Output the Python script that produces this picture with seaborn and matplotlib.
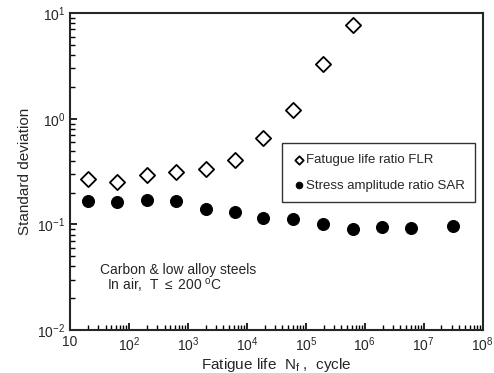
import numpy as np
import pandas as pd
import seaborn as sns
import matplotlib.pyplot as plt
from matplotlib.ticker import LogLocator, NullFormatter

sns.set_style("ticks")
plt.rcParams['font.family'] = ['Liberation Sans', 'DejaVu Sans']
plt.rcParams['mathtext.fontset'] = 'custom'
plt.rcParams['mathtext.rm'] = 'Liberation Sans'
plt.rcParams['mathtext.it'] = 'Liberation Sans:italic'

# fatigue life (cycles) and standard deviations
flr_life = [20, 62, 200, 620, 2000, 6200, 19000, 61000, 193000, 620000]
flr_sd = [0.267, 0.253, 0.293, 0.311, 0.332, 0.404, 0.66, 1.21, 3.27, 7.7]

sar_life = [20, 62, 200, 620, 2000, 6200, 19000, 61000, 195000, 620000, 1980000, 6200000, 31000000]
sar_sd = [0.168, 0.162, 0.171, 0.166, 0.139, 0.132, 0.114, 0.112, 0.1016, 0.090, 0.095, 0.092, 0.097]

xticks = [1e1, 1e2, 1e3, 1e4, 1e5, 1e6, 1e7, 1e8]
xticklabels = ['10', '$10^2$', '$10^3$', '$10^4$', '$10^5$', '$10^6$', '$10^7$', '$10^8$']
yticks = [1e-2, 1e-1, 1e0, 1e1]
yticklabels = ['$10^{-2}$', '$10^{-1}$', '$10^0$', '$10^1$']

flr = pd.DataFrame({'life': flr_life, 'sd': flr_sd})
sar = pd.DataFrame({'life': sar_life, 'sd': sar_sd})

fig = plt.figure(figsize=(4.94, 3.73), dpi=100)
ax = fig.add_axes([0.142, 0.115, 0.835, 0.85])

sns.scatterplot(data=flr, x='life', y='sd', marker='D', s=60, facecolor='white',
                edgecolor='black', linewidth=1.3, label='Fatugue life ratio FLR', ax=ax, zorder=3)
sns.scatterplot(data=sar, x='life', y='sd', marker='o', s=75, color='black',
                edgecolor='black', label='Stress amplitude ratio SAR', ax=ax, zorder=3)

ax.set_xscale('log')
ax.set_yscale('log')
ax.set_xlim(10, 1e8)
ax.set_ylim(1e-2, 1e1)
ax.set_xticks(xticks, xticklabels)
ax.set_yticks(yticks, yticklabels)
ax.xaxis.set_minor_locator(LogLocator(base=10, subs=np.arange(2, 10), numticks=20))
ax.yaxis.set_minor_locator(LogLocator(base=10, subs=np.arange(2, 10), numticks=20))
ax.xaxis.set_minor_formatter(NullFormatter())
ax.yaxis.set_minor_formatter(NullFormatter())
ax.tick_params(which='both', direction='in', labelsize=10, top=False, right=False,
               bottom=True, left=True, color='black')
ax.tick_params(which='major', length=5, width=1.2)
ax.tick_params(which='minor', length=3.5, width=1.0)
for sp in ax.spines.values():
    sp.set_linewidth(1.5)
    sp.set_visible(True)

ax.set_xlabel('Fatigue life  N$_\\mathrm{f}$ ,  cycle', fontsize=11, labelpad=2)
ax.set_ylabel('Standard deviation', fontsize=11)

ax.text(0.072, 0.19, 'Carbon & low alloy steels', transform=ax.transAxes, fontsize=10, va='center')
ax.text(0.09, 0.142, 'In air,  T $\\leq$ 200 $^\\mathrm{o}$C', transform=ax.transAxes, fontsize=10, va='center')

leg = ax.legend(loc='upper left', bbox_to_anchor=(0.498, 0.61), frameon=True, fancybox=False,
                edgecolor='black', fontsize=9.5, handletextpad=0.0, markerscale=0.55,
                labelspacing=1.0, borderpad=0.8, handlelength=1.0)
leg.get_frame().set_linewidth(1.0)

fig.savefig('out.png', dpi=100)
